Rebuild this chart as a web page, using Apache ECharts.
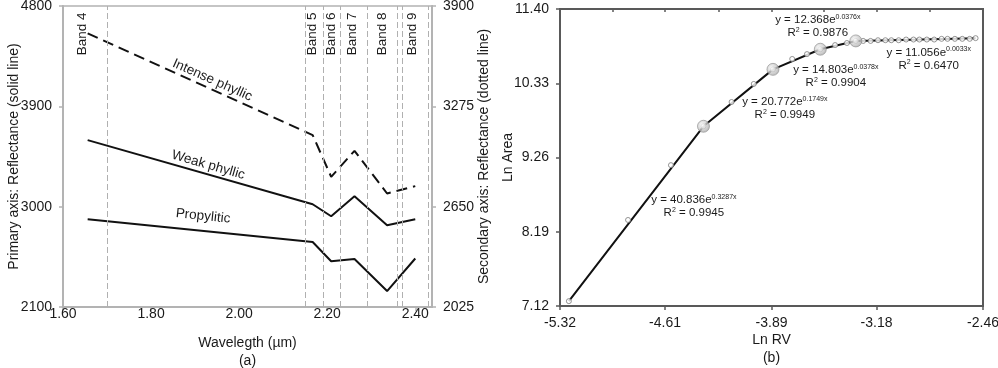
<!DOCTYPE html>
<html>
<head>
<meta charset="utf-8">
<script src="https://cdn.jsdelivr.net/npm/echarts@6/dist/echarts.min.js"></script>
<style>
  html, body { margin: 0; padding: 0; background: #fff; }
  #main { width: 998px; height: 368px; }
</style>
</head>
<body>
<div id="main"></div>
<script>
// panel (a): reflectance at the band centres
var bandCenters = [1.656, 2.167, 2.209, 2.262, 2.336, 2.400];
var bandNames = ['Band 4', 'Band 5', 'Band 6', 'Band 7', 'Band 8', 'Band 9'];
var bandLabelX = [1.643, 2.166, 2.210, 2.256, 2.325, 2.394];
var bandEdges = [1.700, 2.145, 2.185, 2.225, 2.235, 2.285, 2.295, 2.360, 2.365, 2.430];
var intensePhyllic = [3730, 3096, 2836, 2998, 2732, 2778];   // secondary axis
var weakPhyllic = [3597, 3022, 2914, 3094, 2833, 2887];
var propylitic = [2887, 2683, 2510, 2531, 2243, 2535];
var waveTicks = [1.60, 1.80, 2.00, 2.20, 2.40];
var primaryTicks = [2100, 3000, 3900, 4800];
var secondaryTicks = [2025, 2650, 3275, 3900];

// panel (b): Ln Area vs Ln RV
var lnRV = [-5.26, -4.86, -4.57, -4.35, -4.16, -4.01, -3.88, -3.75, -3.65, -3.56, -3.46, -3.38, -3.32,
  -3.27, -3.22, -3.17, -3.12, -3.08, -3.03, -2.98, -2.93, -2.89, -2.84, -2.79, -2.74, -2.70, -2.65, -2.60, -2.55, -2.51];
var lnArea = [7.19, 8.36, 9.15, 9.71, 10.06, 10.32, 10.53, 10.68, 10.75, 10.82, 10.88, 10.91, 10.94,
  10.94, 10.94, 10.95, 10.95, 10.95, 10.95, 10.96, 10.96, 10.96, 10.96, 10.96, 10.97, 10.97, 10.97, 10.97, 10.97, 10.98];
var breakIdx = [3, 6, 9, 12];
var rvTicks = [-5.32, -4.61, -3.89, -3.18, -2.46];
var rvMinor = [-5.32, -4.965, -4.61, -4.25, -3.89, -3.535, -3.18, -2.82, -2.46];
var areaTicks = [7.12, 8.19, 9.26, 10.33, 11.40];
var fits = [
  { eq: '40.836', k: '0.3287', r2: '0.9945', at: [-4.415, 8.55] },
  { eq: '20.772', k: '0.1749', r2: '0.9949', at: [-3.80, 9.97] },
  { eq: '14.803', k: '0.0378', r2: '0.9904', at: [-3.455, 10.43] },
  { eq: '12.368', k: '0.0376', r2: '0.9876', at: [-3.577, 11.15] },
  { eq: '11.056', k: '0.0033', r2: '0.6470', at: [-2.827, 10.68] }
];

var txt = '#1a1a1a';
var grayAxis = '#b3b3b3';
var darkAxis = '#595959';

function pairs(xs, ys) {
  return xs.map(function (x, i) { return [x, ys[i]]; });
}
function fix2(v) { return v.toFixed(2); }
function plain(v) { return String(v); }

var fitLine = [0].concat(breakIdx, [lnRV.length - 1]).map(function (i) { return [lnRV[i], lnArea[i]]; });
var bigPts = breakIdx.map(function (i) { return [lnRV[i], lnArea[i]]; });

var leftLabels = [
  { name: 'Intense phyllic', coord: [1.939, 4135], rot: -24 },
  { name: 'Weak phyllic', coord: [1.930, 3372], rot: -16 },
  { name: 'Propylitic', coord: [1.918, 2914], rot: -6 }
].concat(bandNames.map(function (b, i) {
  return { name: b, coord: [bandLabelX[i], 4550], rot: 90 };
}));

function textPoint(d) {
  return {
    name: d.name, coord: d.coord, symbol: 'circle', symbolSize: 1,
    itemStyle: { color: 'rgba(0,0,0,0)' },
    label: { show: true, position: 'inside', rotate: d.rot, formatter: d.name, fontSize: 13.5, color: txt }
  };
}

var myChart = echarts.init(document.getElementById('main'));
var option = {
  animation: false,
  textStyle: { fontFamily: 'Liberation Sans, Arial, sans-serif' },
  grid: [
    { left: 63, right: 566, top: 6, bottom: 61, outerBoundsMode: 'none', containLabel: false,
      show: true, borderColor: grayAxis, borderWidth: 1.5 },
    { left: 560, right: 15, top: 9, bottom: 62, outerBoundsMode: 'none', containLabel: false,
      show: true, borderColor: darkAxis, borderWidth: 2 }
  ],
  xAxis: [
    {
      gridIndex: 0, type: 'value', min: 1.6, max: 2.438,
      axisLine: { lineStyle: { color: grayAxis, width: 2 } },
      axisTick: { customValues: waveTicks, length: 4, lineStyle: { color: grayAxis, width: 1.5 } },
      axisLabel: { customValues: waveTicks, formatter: fix2, margin: 0, fontSize: 14, color: txt },
      splitLine: { show: false },
      name: 'Wavelegth (µm)\n(a)', nameLocation: 'middle', nameGap: 27, nameMoveOverlap: false,
      nameTextStyle: { fontSize: 14, lineHeight: 18, color: txt }
    },
    {
      gridIndex: 1, type: 'value', min: -5.32, max: -2.46,
      axisLine: { lineStyle: { color: darkAxis, width: 2 } },
      axisTick: { customValues: rvTicks, length: 4, lineStyle: { color: darkAxis, width: 1.5 } },
      axisLabel: { customValues: rvTicks, formatter: fix2, margin: 10, fontSize: 14, color: txt },
      splitLine: { show: false },
      name: 'Ln RV\n(b)', nameLocation: 'middle', nameGap: 25, nameMoveOverlap: false,
      nameTextStyle: { fontSize: 14, lineHeight: 18, color: txt }
    },
    {
      gridIndex: 1, type: 'value', min: -5.32, max: -2.46,
      axisLine: { show: false },
      axisTick: { customValues: rvMinor, inside: true, length: 3, lineStyle: { color: darkAxis, width: 1.5 } },
      axisLabel: { show: false },
      splitLine: { show: false }
    }
  ],
  yAxis: [
    {
      gridIndex: 0, type: 'value', min: 2100, max: 4800,
      axisLine: { show: true, lineStyle: { color: grayAxis, width: 2 } },
      axisTick: { show: true, customValues: primaryTicks, length: 4, lineStyle: { color: grayAxis, width: 1.5 } },
      axisLabel: { customValues: primaryTicks, formatter: plain, margin: 11, fontSize: 14, color: txt },
      splitLine: { show: false },
      name: 'Primary axis: Reflectance (solid line)', nameLocation: 'middle', nameGap: 42, nameMoveOverlap: false,
      nameTextStyle: { fontSize: 14, color: txt }
    },
    {
      gridIndex: 0, type: 'value', position: 'right', min: 2025, max: 3900,
      axisLine: { show: true, lineStyle: { color: grayAxis, width: 2 } },
      axisTick: { show: true, customValues: secondaryTicks, length: 4, lineStyle: { color: grayAxis, width: 1.5 } },
      axisLabel: { customValues: secondaryTicks, formatter: plain, margin: 11, fontSize: 14, color: txt },
      splitLine: { show: false },
      name: 'Secondary axis: Reflectance (dotted line)', nameLocation: 'middle', nameGap: 45, nameMoveOverlap: false,
      nameTextStyle: { fontSize: 14, color: txt }
    },
    {
      gridIndex: 1, type: 'value', min: 7.12, max: 11.40,
      axisLine: { show: true, lineStyle: { color: darkAxis, width: 2 } },
      axisTick: { show: true, customValues: areaTicks, length: 4, lineStyle: { color: darkAxis, width: 1.5 } },
      axisLabel: { customValues: areaTicks, formatter: fix2, margin: 11, fontSize: 14, color: txt },
      splitLine: { show: false },
      name: 'Ln Area', nameLocation: 'middle', nameGap: 45, nameMoveOverlap: false,
      nameTextStyle: { fontSize: 14, color: txt }
    }
  ],
  series: [
    {
      name: 'Propylitic', type: 'line', xAxisIndex: 0, yAxisIndex: 0,
      data: pairs(bandCenters, propylitic), symbol: 'none',
      lineStyle: { color: '#111', width: 2 },
      markLine: {
        silent: true, symbol: 'none', label: { show: false },
        lineStyle: { color: '#b0b0b0', width: 1, type: [6, 3] },
        data: bandEdges.map(function (x) { return { xAxis: x }; })
      }
    },
    {
      name: 'Weak phyllic', type: 'line', xAxisIndex: 0, yAxisIndex: 0,
      data: pairs(bandCenters, weakPhyllic), symbol: 'none',
      lineStyle: { color: '#111', width: 2 },
      markPoint: { silent: true, data: leftLabels.map(textPoint) }
    },
    {
      name: 'Intense phyllic', type: 'line', xAxisIndex: 0, yAxisIndex: 1,
      data: pairs(bandCenters, intensePhyllic), symbol: 'none',
      lineStyle: { color: '#111', width: 2, type: [11, 6] }
    },
    {
      name: 'Fit', type: 'line', xAxisIndex: 1, yAxisIndex: 2,
      data: fitLine, symbol: 'none', z: 2,
      lineStyle: { color: '#111', width: 2 },
      markPoint: {
        silent: true,
        data: fits.map(function (f) {
          return {
            coord: f.at, symbol: 'circle', symbolSize: 1,
            itemStyle: { color: 'rgba(0,0,0,0)' },
            label: {
              show: true, position: 'inside', align: 'center', color: txt,
              formatter: '{t|y = ' + f.eq + 'e}{s|' + f.k + 'x}\n{t|R}{s|2}{t| = ' + f.r2 + '}',
              rich: {
                t: { fontSize: 11.5, lineHeight: 13, color: txt },
                s: { fontSize: 7, lineHeight: 8, verticalAlign: 'top', color: txt }
              }
            }
          };
        })
      }
    },
    {
      name: 'Points', type: 'scatter', xAxisIndex: 1, yAxisIndex: 2, z: 3,
      data: pairs(lnRV, lnArea), symbol: 'circle', symbolSize: 5,
      itemStyle: { color: '#fff', borderColor: '#7a7a7a', borderWidth: 1 }
    },
    {
      name: 'Breaks', type: 'scatter', xAxisIndex: 1, yAxisIndex: 2, z: 4,
      data: bigPts, symbol: 'circle', symbolSize: 12,
      itemStyle: {
        color: new echarts.graphic.RadialGradient(0.4, 0.4, 0.65, [
          { offset: 0, color: '#ffffff' },
          { offset: 1, color: '#a5a5a5' }
        ]),
        borderColor: '#8c8c8c', borderWidth: 0.8
      }
    }
  ]
};
myChart.setOption(option);
</script>
</body>
</html>
